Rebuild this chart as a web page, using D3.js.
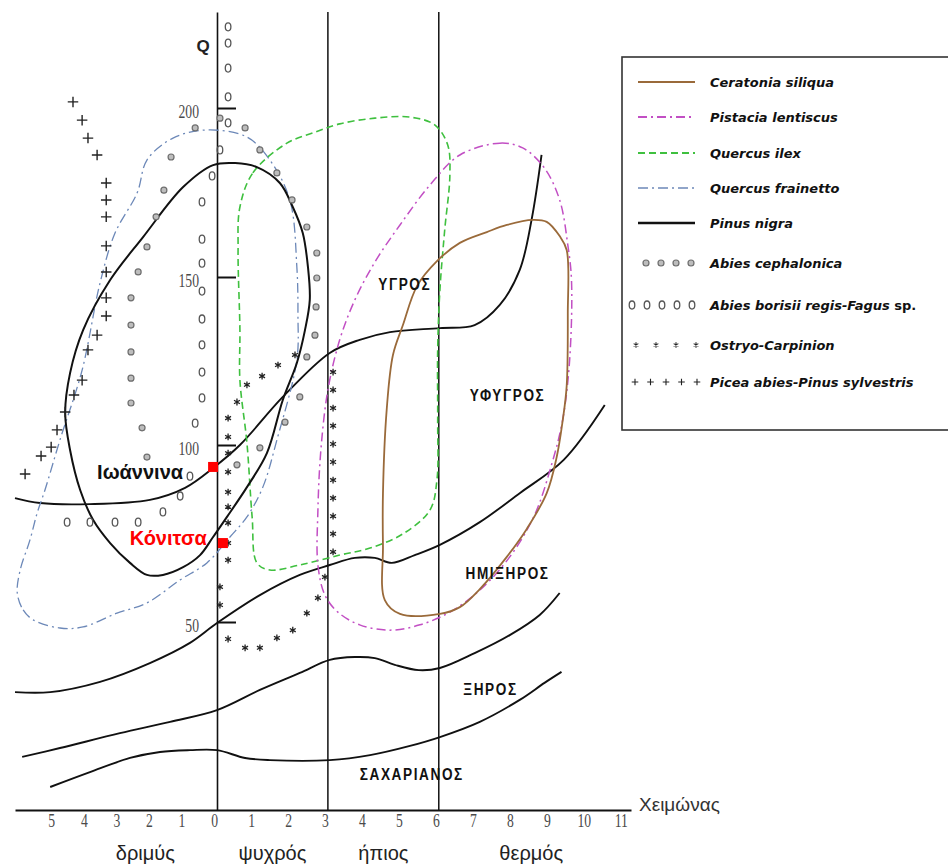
<!DOCTYPE html>
<html>
<head>
<meta charset="utf-8">
<title>Κλιματόγραμμα Emberger</title>
<style>
  body { margin: 0; background: #fff; }
  svg { display: block; background: #fff; }
  .zone { font-family: 'Liberation Sans', Arial, sans-serif; font-weight: bold; font-size: 17px; letter-spacing: 2px; fill: #111; text-anchor: middle; }
  .tick-num { font-family: 'Liberation Serif', serif; font-size: 19px; fill: #4a4a4a; }
  .season { font-family: 'Liberation Sans', Arial, sans-serif; font-size: 20px; fill: #222; text-anchor: middle; }
  .legend text { font-family: 'DejaVu Sans', Verdana, sans-serif; font-weight: bold; font-style: italic; font-size: 13px; fill: #111; }
  .station { font-family: 'Liberation Sans', Arial, sans-serif; font-weight: bold; font-size: 20px; }
</style>
</head>
<body>
<script src="https://d3js.org/d3.v7.min.js"></script>
<script>
const width = 948;
const height = 866;

// axis ticks (winter minimum m, pluviothermic quotient Q)
const xTicks = [-5, -4, -3, -2, -1, 0, 1, 2, 3, 4, 5, 6, 7, 8, 9, 10, 11];
const qTicks = [50, 100, 150, 200];
const winterBounds = [3, 6];
const winterClasses = ['δριμύς', 'ψυχρός', 'ήπιος', 'θερμός'];
const winterClassAt = [-2.2, 1.5, 4.5, 8.5];

// bioclimatic zones
const zoneNames = ['ΥΓΡΟΣ', 'ΥΦΥΓΡΟΣ', 'ΗΜΙΞΗΡΟΣ', 'ΞΗΡΟΣ', 'ΣΑΧΑΡΙΑΝΟΣ'];
const zoneAt = [[5.08, 148], [7.86, 115], [7.86, 64], [7.4, 31], [5.27, 7]];

// zone boundaries [m, Q]
const humidLine = [[-6.2, 85.0], [-5.43, 83.6], [-3.9, 83.3], [-2.06, 84.5], [-0.98, 87.9], [-0.12, 93.5],
  [0.62, 100], [1.78, 114.3], [3.05, 127.4], [3.86, 131.3], [4.68, 133.6], [6.03, 134.8], [6.97, 135.7],
  [7.65, 141.7], [8.19, 152.1], [8.51, 166.9], [8.78, 186.1]];
const subhumidLine = [[-6.2, 30.2], [-5.12, 30.2], [-3.59, 33.1], [-2.06, 38.4], [-0.83, 44.1], [0, 49.7],
  [1.16, 57.6], [2.24, 63.3], [3.05, 66.1], [3.73, 68.1], [4.27, 68.1], [4.73, 66.7], [5.35, 68.9],
  [6.03, 71.8], [7.11, 78.2], [8.19, 86.4], [9.38, 95.8], [10.49, 111.9]];
const semiaridLine = [[-5.98, 11.9], [-4.82, 14.4], [-2.98, 18.6], [-1.44, 21.8], [0, 25.1], [1.16, 30.8],
  [2.24, 35.6], [3.05, 39.3], [3.73, 40.1], [4.27, 39.8], [4.81, 37.9], [5.46, 36.4], [6.03, 37.0],
  [6.97, 41.2], [7.92, 46.3], [8.73, 52.0], [9.27, 58.2]];
const aridLine = [[-5.12, 3.4], [-3.9, 7.6], [-2.67, 11.6], [-1.75, 13.3], [-0.83, 13.8], [0, 13.8],
  [0.76, 11.6], [1.43, 11.0], [3.05, 11.0], [4.14, 12.4], [5.22, 15.0], [6.03, 17.5], [7.11, 21.8],
  [8.19, 28.0], [8.86, 32.8], [9.32, 35.9]];

// species envelopes [m, Q]
const ceratonia = [[8.54, 166.9], [8.92, 166.3], [9.27, 162.1], [9.46, 158.0], [9.49, 139.0], [9.46, 117.6],
  [9.35, 107.1], [9.19, 96.6], [8.92, 86.4], [8.38, 76.3], [7.84, 68.4], [7.11, 59.3], [6.57, 54.2],
  [6.03, 52.3], [4.95, 52.3], [4.54, 56.2], [4.49, 71.5], [4.49, 86.4], [4.59, 110.4], [4.76, 126.8],
  [5.03, 135.7], [5.41, 147.3], [5.95, 154.7], [6.57, 160.1], [7.3, 163.3], [7.84, 165.4]];
const pistacia = [[6.57, 186.1], [7.65, 189.6], [8.27, 188.2], [8.86, 182.2], [9.27, 172.8], [9.49, 159.5],
  [9.59, 149.1], [9.54, 125.3], [9.35, 107.4], [9.05, 94.4], [8.59, 80.2], [7.92, 68.4], [7.11, 59.0],
  [6.3, 52.8], [5.49, 49.2], [4.68, 47.7], [3.86, 49.2], [3.27, 52.8], [2.92, 57.6], [2.73, 66.1],
  [2.73, 81.6], [2.81, 98.6], [3.0, 116.4], [3.32, 131.3], [3.73, 143.2], [4.27, 154.4], [4.95, 165.4],
  [5.76, 177.2]];
const quercusIlex = [[0.62, 170.7], [0.97, 180.8], [1.89, 189.6], [2.59, 192.6], [3.32, 195.3], [4.27, 197.0],
  [5.22, 197.3], [5.89, 195.0], [6.24, 189.1], [6.3, 180.2], [6.16, 163.9], [6.03, 146.1], [5.97, 128.3],
  [5.97, 107.4], [5.95, 90.1], [5.76, 81.6], [5.03, 74.9], [4.14, 70.9], [3.32, 68.9], [2.24, 66.1],
  [1.43, 64.7], [1.08, 66.7], [0.95, 79.7], [0.81, 100.6], [0.62, 119.3], [0.62, 134.2], [0.57, 158.0]];
const quercusFrainetto = [[-6.13, 58.2], [-5.95, 53.4], [-5.64, 50.6], [-4.82, 48.3], [-4.11, 48.6],
  [-3.07, 52.5], [-2.15, 55.4], [-1.13, 61.9], [-0.31, 66.7], [0.35, 74.0], [0.81, 79.7], [1.24, 88.1],
  [1.62, 101.5], [2.16, 125.3], [2.19, 138.7], [2.16, 153.0], [1.97, 172.8], [1.43, 184.6], [0.81, 191.4],
  [-0.31, 193.5], [-1.35, 191.1], [-2.15, 184.6], [-2.45, 174.9], [-3.13, 163.0], [-3.59, 148.2],
  [-4.14, 122.3], [-4.82, 101.5], [-5.28, 87.3], [-5.52, 80.8], [-5.74, 73.2], [-6.04, 64.7]];
const pinusNigra = [[-0.12, 183.1], [0.49, 183.7], [1.08, 182.5], [1.70, 177.8], [2.05, 170.7], [2.32, 163.0],
  [2.46, 153.0], [2.51, 143.2], [2.38, 134.2], [2.16, 124.4], [1.78, 113.4], [1.35, 97.7], [0.81, 88.1],
  [0.27, 79.7], [-0.12, 74.0], [-0.52, 68.9], [-1.04, 65.5], [-1.66, 63.3], [-2.15, 63.3], [-2.67, 66.7],
  [-3.28, 72.3], [-3.8, 78.8], [-4.2, 87.3], [-4.51, 98.6], [-4.66, 109.5], [-4.51, 121.4], [-4.11, 134.2],
  [-3.28, 149.1], [-2.27, 161.8], [-1.04, 176.6]];

// species marked by symbols [m, Q]
const abiesCephalonica = [[-2.15, 96.6], [-2.3, 105.1], [-2.64, 112.5], [-2.64, 119.9], [-2.64, 127.7],
  [-2.64, 135.7], [-2.64, 143.8], [-2.42, 151.5], [-2.15, 158.9], [-1.87, 167.8], [-1.63, 175.7],
  [-1.41, 185.5], [-0.67, 194.1], [0.08, 197.0], [0.76, 194.1], [1.16, 187.6], [1.62, 180.8], [2.03, 172.8],
  [2.43, 164.8], [2.7, 157.1], [2.7, 149.7], [2.68, 141.1], [2.65, 132.7], [2.43, 126.2], [2.24, 114.3],
  [1.84, 106.8], [1.16, 99.2], [0.54, 94.4]];
const abiesBorisii = [[0.3, 224.0], [0.3, 219.2], [0.3, 211.8], [0.3, 203.3], [0.3, 195.6], [0.08, 187.6],
  [-0.15, 179.9], [-0.46, 172.2], [-0.46, 161.2], [-0.46, 154.1], [-0.46, 145.8], [-0.46, 137.5],
  [-0.46, 129.8], [-0.46, 121.7], [-0.46, 114.0], [-0.67, 106.5], [-0.83, 91.2], [-1.13, 85.6],
  [-1.66, 81.1], [-2.42, 78.2], [-3.13, 78.2], [-3.9, 78.2], [-4.6, 78.2]];
const ostryoCarpinion = [[0.54, 112.8], [0.81, 117.9], [1.22, 120.5], [1.65, 123.8], [2.11, 126.8],
  [3.14, 121.7], [3.14, 116.4], [3.14, 111.0], [3.14, 105.7], [3.14, 100.3], [3.14, 95.2], [3.14, 90.1],
  [3.14, 85.0], [3.14, 79.9], [3.14, 74.9], [3.14, 69.8], [2.92, 62.7], [2.73, 56.8], [2.43, 52.5],
  [2.05, 47.7], [1.62, 45.5], [1.16, 42.7], [0.76, 42.7], [0.3, 45.2], [0.08, 54.8], [0.08, 59.9],
  [0.3, 67.5], [0.3, 72.3], [0.3, 78.0], [0.3, 82.5], [0.3, 86.7], [0.3, 92.4], [0.3, 97.7], [0.3, 102.4],
  [0.3, 108.0]];
const piceaPinus = [[-4.42, 201.8], [-4.14, 196.4], [-3.96, 191.1], [-3.68, 186.1], [-3.4, 177.8],
  [-3.4, 172.8], [-3.4, 167.8], [-3.4, 159.2], [-3.4, 151.5], [-3.4, 143.8], [-3.4, 138.4], [-3.68, 132.7],
  [-3.96, 128.3], [-4.14, 119.3], [-4.39, 114.9], [-4.66, 109.8], [-4.91, 104.5], [-5.09, 99.4],
  [-5.4, 96.9], [-5.89, 91.8]];

// stations
const stationNames = ['Ιωάννινα', 'Κόνιτσα'];
const stationM = [-0.12, 0.16];
const stationQ = [93.8, 72.3];

const legendNames = ['Ceratonia siliqua', 'Pistacia lentiscus', 'Quercus ilex', 'Quercus frainetto',
  'Pinus nigra', 'Abies cephalonica', 'Abies borisii regis-Fagus', 'Ostryo-Carpinion',
  'Picea abies-Pinus sylvestris'];

const x = d3.scaleLinear().domain([-6.2, 0, 11.2]).range([15, 217, 631]);
const y = d3.scaleLinear().domain([-3.1, 50, 100, 150, 200, 228.4]).range([810, 622, 445, 277, 108, 12]);

const svg = d3.select('body').append('svg')
  .attr('width', width)
  .attr('height', height);

const openLine = d3.line().x(d => x(d[0])).y(d => y(d[1])).curve(d3.curveCatmullRom.alpha(0.5));
const closedLine = d3.line().x(d => x(d[0])).y(d => y(d[1])).curve(d3.curveCatmullRomClosed.alpha(0.5));

const styles = {
  ceratonia: { stroke: '#9a6a3a', width: 1.8, dash: null },
  pistacia: { stroke: '#c24fc4', width: 1.5, dash: '9,4,2,4' },
  ilex: { stroke: '#3fc03f', width: 1.6, dash: '7,4' },
  frainetto: { stroke: '#6c88b8', width: 1.3, dash: '10,4,2,4' },
  nigra: { stroke: '#111', width: 2, dash: null }
};

// axes
const gx = svg.append('g')
  .attr('transform', `translate(0,${y(-3.1)})`)
  .call(d3.axisBottom(x).tickValues(xTicks).tickFormat(d => Math.abs(d)).tickSize(0).tickSizeOuter(0).tickPadding(4));
gx.select('.domain').attr('stroke', '#111').attr('stroke-width', 1.8);
gx.selectAll('.tick text').attr('class', 'tick-num').attr('dx', -4).attr('transform', 'scale(0.72,1)');

const gy = svg.append('g')
  .attr('transform', `translate(${x(0)},0)`)
  .call(d3.axisLeft(y).tickValues(qTicks).tickSize(-19).tickSizeOuter(0).tickPadding(25));
gy.select('.domain').attr('stroke', '#111').attr('stroke-width', 1.6);
gy.selectAll('.tick line').attr('stroke', '#111').attr('stroke-width', 2);
gy.selectAll('.tick text').attr('class', 'tick-num').attr('dy', '0.5em').attr('transform', 'scale(0.72,1)');

svg.selectAll('line.bound')
  .data(winterBounds)
  .join('line')
  .attr('class', 'bound')
  .attr('x1', d => x(d)).attr('x2', d => x(d))
  .attr('y1', y(228.4)).attr('y2', y(-3.1))
  .attr('stroke', '#111').attr('stroke-width', 1.5);

svg.append('text')
  .attr('x', x(0) - 14).attr('y', 52)
  .attr('text-anchor', 'middle')
  .style('font', 'bold 17px "Liberation Sans", Arial, sans-serif')
  .attr('fill', '#222')
  .text('Q');

svg.append('text')
  .attr('x', x(11.2) + 8).attr('y', y(-3.1) + 1)
  .style('font', '19px "Liberation Sans", Arial, sans-serif')
  .attr('fill', '#333')
  .text('Χειμώνας');

svg.selectAll('text.season')
  .data(winterClasses)
  .join('text')
  .attr('class', 'season')
  .attr('x', (d, i) => x(winterClassAt[i]))
  .attr('y', 860)
  .text(d => d);

// zone boundaries
svg.append('g')
  .selectAll('path')
  .data([humidLine, subhumidLine, semiaridLine, aridLine])
  .join('path')
  .attr('d', openLine)
  .attr('fill', 'none')
  .attr('stroke', '#111')
  .attr('stroke-width', 1.9);

// envelopes
const envelopes = [
  [quercusFrainetto, styles.frainetto],
  [quercusIlex, styles.ilex],
  [pistacia, styles.pistacia],
  [ceratonia, styles.ceratonia],
  [pinusNigra, styles.nigra]
];
svg.append('g')
  .selectAll('path')
  .data(envelopes)
  .join('path')
  .attr('d', d => closedLine(d[0]))
  .attr('fill', 'none')
  .attr('stroke', d => d[1].stroke)
  .attr('stroke-width', d => d[1].width)
  .attr('stroke-dasharray', d => d[1].dash);

// symbol marks
function drawOvals(g, pts) {
  g.selectAll('ellipse.ab').data(pts).join('ellipse')
    .attr('class', 'ab')
    .attr('cx', d => d[0]).attr('cy', d => d[1])
    .attr('rx', 2.8).attr('ry', 4)
    .attr('fill', 'none').attr('stroke', '#555').attr('stroke-width', 1.3);
}
function drawDots(g, pts) {
  g.selectAll('circle.ac').data(pts).join('circle')
    .attr('class', 'ac')
    .attr('cx', d => d[0]).attr('cy', d => d[1])
    .attr('r', 3)
    .attr('fill', '#bdbdbd').attr('stroke', '#6e6e6e').attr('stroke-width', 1.2);
}
function drawSym(g, pts, type, size, sw) {
  g.selectAll(null).data(pts).join('path')
    .attr('transform', d => `translate(${d[0]},${d[1]})`)
    .attr('d', d3.symbol(type, size))
    .attr('fill', 'none').attr('stroke', '#222').attr('stroke-width', sw);
}
const toPx = d => [x(d[0]), y(d[1])];
const marks = svg.append('g');
drawOvals(marks.append('g'), abiesBorisii.map(toPx));
drawDots(marks.append('g'), abiesCephalonica.map(toPx));
drawSym(marks.append('g'), ostryoCarpinion.map(toPx), d3.symbolAsterisk, 32, 1.3);
drawSym(marks.append('g'), piceaPinus.map(toPx), d3.symbolPlus, 38, 1.4);

// zone labels
svg.selectAll('text.zone')
  .data(zoneNames)
  .join('text')
  .attr('class', 'zone')
  .attr('transform', (d, i) => `translate(${x(zoneAt[i][0])},${y(zoneAt[i][1])}) scale(0.8,1)`)
  .attr('dy', '0.36em')
  .text(d => d);

// stations
const labelShift = [[-30, 5], [-16, -5]];
const stationColor = ['#111', '#ff0000'];
stationNames.forEach((name, i) => {
  const px = x(stationM[i]), py = y(stationQ[i]);
  svg.append('rect')
    .attr('x', px - 5).attr('y', py - 5)
    .attr('width', 10).attr('height', 10)
    .attr('fill', '#ff0000');
  svg.append('text')
    .attr('class', 'station')
    .attr('x', px + labelShift[i][0]).attr('y', py + labelShift[i][1])
    .attr('dy', '0.36em')
    .attr('text-anchor', 'end')
    .attr('fill', stationColor[i])
    .text(name);
});

// legend
const legend = svg.append('g').attr('class', 'legend');
legend.append('rect')
  .attr('x', 622).attr('y', 57)
  .attr('width', 340).attr('height', 373)
  .attr('fill', '#fff').attr('stroke', '#333').attr('stroke-width', 1.6);
const rowY = [82, 117, 153, 188, 223, 263, 305, 345, 382];
const lineKeys = ['ceratonia', 'pistacia', 'ilex', 'frainetto', 'nigra'];
lineKeys.forEach((k, i) => {
  legend.append('line')
    .attr('x1', 638).attr('x2', 695)
    .attr('y1', rowY[i]).attr('y2', rowY[i])
    .attr('stroke', styles[k].stroke)
    .attr('stroke-width', styles[k].width + 0.4)
    .attr('stroke-dasharray', styles[k].dash);
});
drawDots(legend.append('g'), d3.range(4).map(j => [646 + j * 15, rowY[5]]));
drawOvals(legend.append('g'), d3.range(5).map(j => [632 + j * 15, rowY[6]]));
drawSym(legend.append('g'), d3.range(4).map(j => [636 + j * 20, rowY[7]]), d3.symbolAsterisk, 20, 1.1);
drawSym(legend.append('g'), d3.range(5).map(j => [635 + j * 15.5, rowY[8]]), d3.symbolPlus, 16, 1.1);

const lt = legend.selectAll('text.lt')
  .data(legendNames)
  .join('text')
  .attr('class', 'lt')
  .attr('x', 710)
  .attr('y', (d, i) => rowY[i])
  .attr('dy', '0.36em')
  .text(d => d);
lt.filter((d, i) => i === 6)
  .append('tspan')
  .style('font-style', 'normal')
  .text(' sp.');
</script>
</body>
</html>
